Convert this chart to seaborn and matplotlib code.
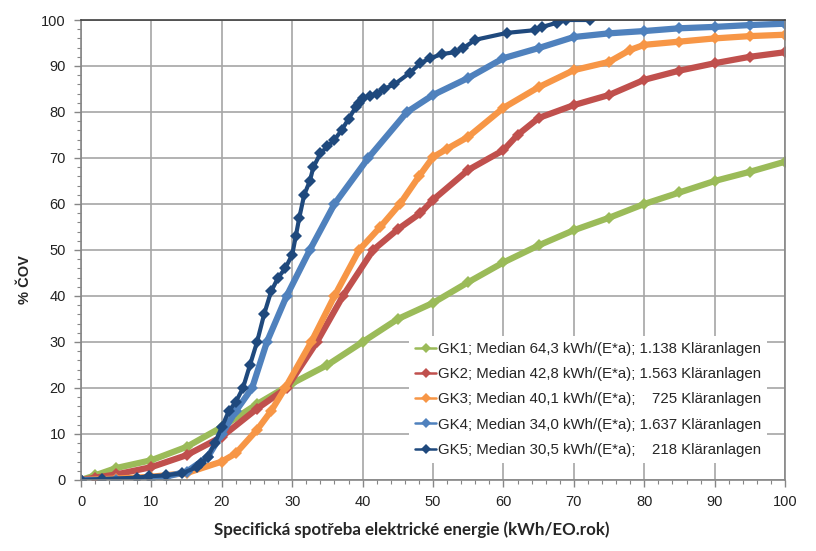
import matplotlib
matplotlib.use("Agg")
import matplotlib.pyplot as plt
import seaborn as sns

# cumulative share of WWTPs (% ČOV) vs. specific energy consumption
gk1_x = [0, 2, 5, 10, 15, 20, 25, 30, 35, 40, 45, 50, 55, 60, 65, 70, 75, 80, 85, 90, 95, 100]
gk1_y = [0, 1, 2.6, 4.3, 7.2, 11.5, 16.5, 21, 25, 30, 35, 38.5, 43, 47.3, 51, 54.3, 57, 60, 62.5, 65, 67, 69.2]

gk2_x = [0, 2, 5, 10, 15, 20, 25, 29.2, 33.5, 37.2, 41.5, 45, 48.2, 50, 55, 60, 62, 65, 70, 75, 80, 85, 90, 95, 100]
gk2_y = [0, 0.5, 1.2, 2.8, 5.4, 9.4, 15.5, 20, 30, 40, 50, 54.5, 58, 60.9, 67.4, 71.7, 75, 78.7, 81.5, 83.7, 87, 89, 90.6, 92, 93]

gk3_x = [0, 5, 10, 15, 20, 22, 25, 27, 29, 32.7, 36, 39.5, 42.5, 45.3, 48, 50, 52, 55, 60, 65, 70, 75, 78, 80, 85, 90, 95, 100]
gk3_y = [0, 0.3, 0.7, 1.5, 4, 5.8, 10.9, 15, 20, 30, 40, 50, 55, 60, 66, 70.2, 72, 74.6, 80.9, 85.4, 89.1, 90.9, 93.5, 94.6, 95.3, 96, 96.5, 96.8]

gk4_x = [0, 5, 10, 12, 15, 18, 20, 22, 24.3, 26.4, 29.2, 32.5, 36, 40.8, 46.3, 50, 55, 60, 65, 70, 75, 80, 85, 90, 95, 100]
gk4_y = [0, 0, 0.3, 0.7, 1.8, 5, 10, 15, 20, 30, 40, 50, 60, 70, 80, 83.7, 87.4, 91.7, 93.9, 96.3, 97.1, 97.6, 98.2, 98.5, 98.9, 99.2]

gk5_x = [0, 3, 8, 9.6, 12, 14.4, 16.5, 17, 18, 19, 20, 21, 22, 23, 24, 25, 26, 27, 28, 29, 30, 30.5, 31,
         31.7, 32.5, 33, 34, 35, 36, 37, 38, 39, 39.5, 40, 41, 42, 43, 44.5, 46.7, 48.2, 49.6, 51.3, 53.1,
         54.3, 56, 60.5, 64.5, 65.5, 67.6, 68.9, 72.3]
gk5_y = [0, 0.2, 0.5, 0.8, 1, 1.5, 2.8, 3.6, 5, 8, 11.5, 15, 17, 20, 25, 30, 36, 41, 44, 46, 49, 53, 57,
         62, 65, 68, 71, 72.5, 74, 76, 78.5, 81, 82, 83, 83.5, 84, 85, 86, 88.5, 90.6, 91.7, 92.6, 93,
         93.9, 95.7, 97.2, 97.8, 98.5, 99.4, 100, 100]

series_labels = [
    "GK1; Median 64,3 kWh/(E*a); 1.138 Kläranlagen",
    "GK2; Median 42,8 kWh/(E*a); 1.563 Kläranlagen",
    "GK3; Median 40,1 kWh/(E*a);    725 Kläranlagen",
    "GK4; Median 34,0 kWh/(E*a); 1.637 Kläranlagen",
    "GK5; Median 30,5 kWh/(E*a);    218 Kläranlagen",
]
colors = ["#9BBB59", "#C0504D", "#F79646", "#4F81BD", "#1F497D"]

sns.set_style("white")
plt.rcParams["font.family"] = ["Liberation Sans", "DejaVu Sans"]

fig = plt.figure(figsize=(8.16, 5.51), dpi=100)
ax = fig.add_axes([0.0993, 0.1289, 0.8628, 0.8348])

data = [(gk1_x, gk1_y), (gk2_x, gk2_y), (gk3_x, gk3_y), (gk4_x, gk4_y), (gk5_x, gk5_y)]
for i, (xs, ys) in enumerate(data):
    lw = 4.5 if i < 4 else 3
    sns.lineplot(
        x=xs, y=ys, ax=ax,
        color=colors[i], label=series_labels[i],
        marker="D", markersize=6, markeredgewidth=0,
        linewidth=lw, sort=False, estimator=None,
    )

ax.set_xlim(0, 100)
ax.set_ylim(0, 100)
ax.set_xticks(range(0, 101, 10))
ax.set_yticks(range(0, 101, 10))
ax.set_xticks(range(0, 101, 2), minor=True)
ax.set_yticks(range(0, 101, 2), minor=True)
ax.grid(True, which="major", color="#a6a6a6", linewidth=1.2)
ax.set_axisbelow(True)

ax.tick_params(which="major", direction="out", length=5, width=1, color="#868686",
               labelsize=10.5, labelcolor="#222222", bottom=True, left=True, pad=6)
ax.tick_params(which="minor", direction="out", length=3, width=0.8, color="#868686",
               bottom=True, left=True)

for side in ["left", "bottom", "right"]:
    ax.spines[side].set_color("#868686")
    ax.spines[side].set_linewidth(1.2)
ax.spines["top"].set_color("#404040")
ax.spines["top"].set_linewidth(1.2)

ax.set_ylabel("% ČOV", fontsize=10.5, fontweight="bold")
ax.yaxis.set_label_coords(-0.07, 0.435)
ax.set_xlabel("Specifická spotřeba elektrické energie (kWh/EO.rok)",
              fontsize=12.2, fontweight="bold", family=["Lato", "DejaVu Sans"])
ax.xaxis.set_label_coords(0.47, -0.09)

leg = ax.legend(loc="lower right", bbox_to_anchor=(0.985, 0.021), fontsize=10.8,
                frameon=True, framealpha=1, facecolor="white", edgecolor="none",
                handlelength=1.4, handletextpad=0.1, labelspacing=0.75, borderpad=0.4)
for h in leg.get_lines():
    h.set_linewidth(1.8)
    h.set_markersize(5)

plt.savefig("out.png", dpi=100)
plt.close()
